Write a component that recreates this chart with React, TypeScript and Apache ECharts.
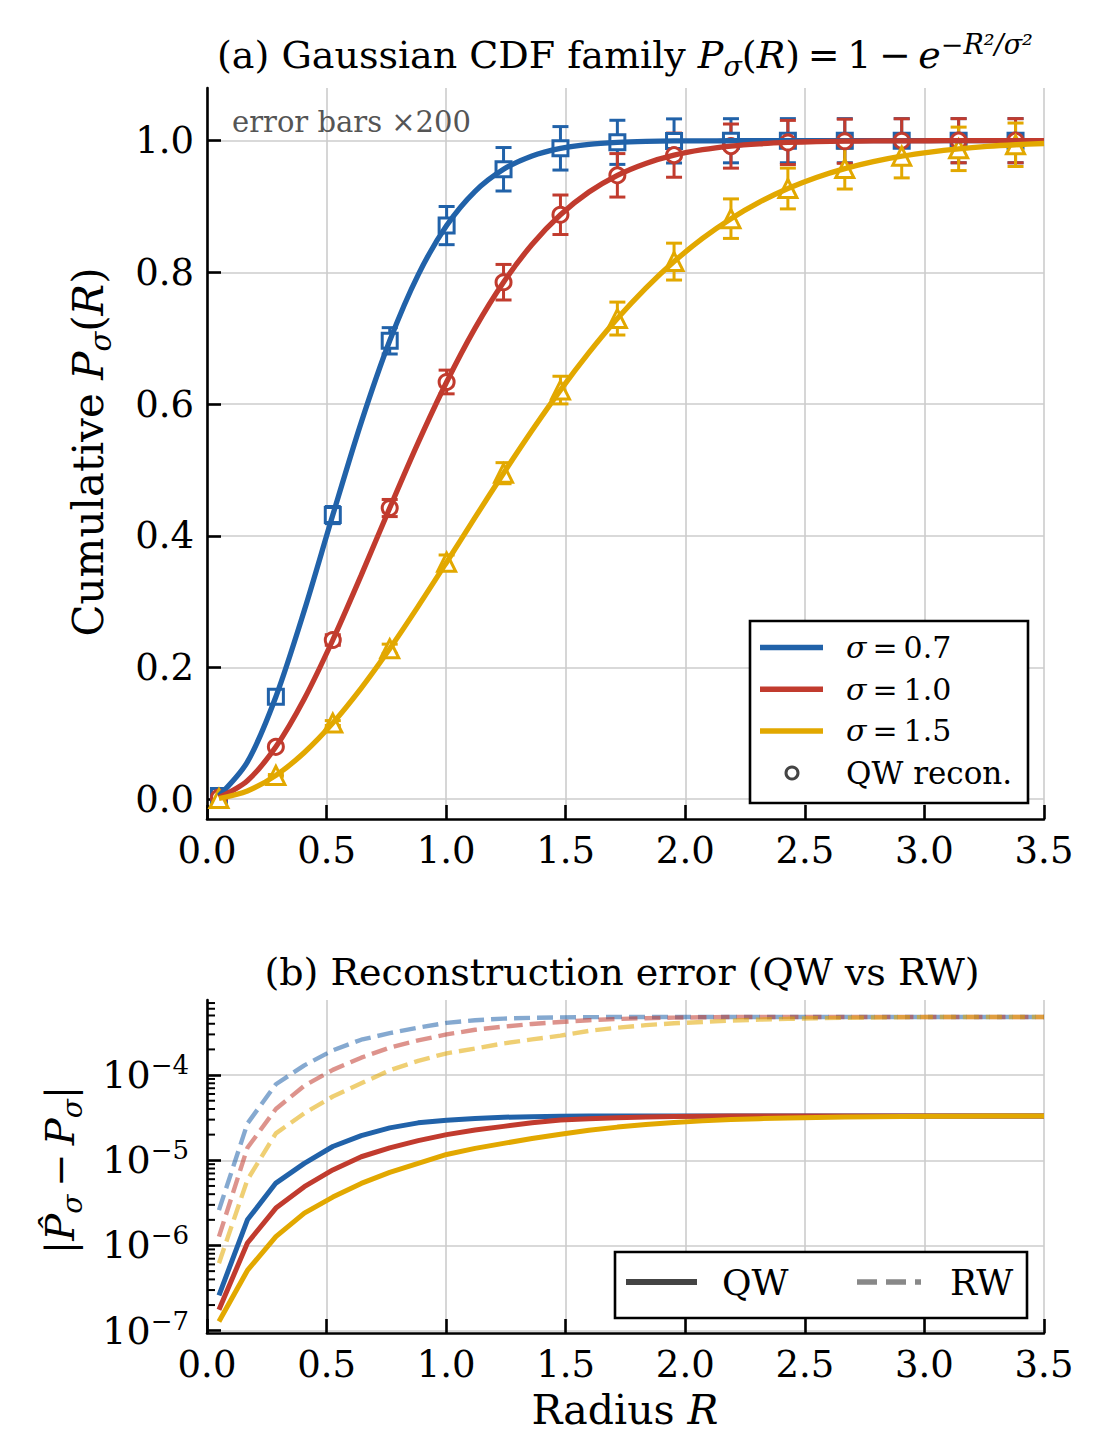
import React, { useEffect, useRef } from 'react';
import * as echarts from 'echarts';

// ---------- data ----------
const R_GRID = [0.05, 0.169, 0.288, 0.407, 0.526, 0.645, 0.764, 0.883, 1.002, 1.121, 1.24, 1.359, 1.478, 1.597, 1.716, 1.835, 1.953, 2.072, 2.191, 2.31, 2.429, 2.548, 2.667, 2.786, 2.905, 3.024, 3.143, 3.262, 3.381, 3.5];
const R_MARK = [0.05, 0.288, 0.526, 0.764, 1.002, 1.24, 1.478, 1.716, 1.953, 2.191, 2.429, 2.667, 2.905, 3.143, 3.381];

const CDF_07 = [0.0051, 0.0567, 0.1557, 0.2868, 0.4315, 0.5722, 0.6961, 0.7963, 0.8711, 0.9231, 0.9566, 0.9769, 0.9884, 0.9945, 0.9975, 0.999, 0.9996, 0.9998, 0.9999, 1.0, 1.0, 1.0, 1.0, 1.0, 1.0, 1.0, 1.0, 1.0, 1.0, 1.0];
const CDF_10 = [0.0025, 0.0282, 0.0796, 0.1526, 0.2418, 0.3403, 0.4422, 0.5415, 0.6336, 0.7154, 0.7851, 0.8423, 0.8875, 0.922, 0.9474, 0.9655, 0.978, 0.9863, 0.9918, 0.9952, 0.9973, 0.9985, 0.9992, 0.9996, 0.9998, 0.9999, 1.0, 1.0, 1.0, 1.0];
const CDF_15 = [0.0011, 0.0126, 0.0362, 0.071, 0.1157, 0.1688, 0.2285, 0.2929, 0.3599, 0.4279, 0.4951, 0.5599, 0.6213, 0.6781, 0.7299, 0.7761, 0.8164, 0.8516, 0.8816, 0.9067, 0.9274, 0.9442, 0.9576, 0.9682, 0.9765, 0.9828, 0.9876, 0.9912, 0.9938, 0.9957];

const QW_07 = [0.0051, 0.1557, 0.4315, 0.6961, 0.8711, 0.9566, 0.9884, 0.9975, 0.9996, 0.9999, 1.0, 1.0, 1.0, 1.0, 1.0];
const QW_10 = [0.0025, 0.0796, 0.2418, 0.4422, 0.6336, 0.7851, 0.8875, 0.9474, 0.978, 0.9918, 0.9973, 0.9992, 0.9998, 1.0, 1.0];
const QW_15 = [0.0011, 0.0362, 0.1157, 0.2285, 0.3599, 0.4951, 0.6213, 0.7299, 0.8164, 0.8816, 0.9274, 0.9576, 0.9765, 0.9876, 0.9938];

const ERR_07 = [0.0003, 0.005, 0.013, 0.02, 0.029, 0.033, 0.033, 0.0335, 0.0335, 0.0335, 0.0335, 0.0335, 0.0335, 0.0335, 0.0335];
const ERR_10 = [0.0002, 0.003, 0.008, 0.013, 0.018, 0.027, 0.03, 0.033, 0.0335, 0.0335, 0.0335, 0.0335, 0.0335, 0.0335, 0.0335];
const ERR_15 = [0.0001, 0.0013, 0.0037, 0.007, 0.011, 0.016, 0.021, 0.025, 0.028, 0.03, 0.031, 0.031, 0.033, 0.033, 0.033];

const QW_ERR_07 = [2.6e-7, 2.0e-6, 5.4e-6, 9.2e-6, 1.45e-5, 1.95e-5, 2.4e-5, 2.75e-5, 2.95e-5, 3.1e-5, 3.2e-5, 3.25e-5, 3.28e-5, 3.3e-5, 3.3e-5, 3.3e-5, 3.3e-5, 3.3e-5, 3.3e-5, 3.3e-5, 3.3e-5, 3.3e-5, 3.3e-5, 3.3e-5, 3.3e-5, 3.3e-5, 3.3e-5, 3.3e-5, 3.3e-5, 3.3e-5];
const QW_ERR_10 = [1.76e-7, 1.07e-6, 2.75e-6, 4.9e-6, 7.7e-6, 1.1e-5, 1.4e-5, 1.7e-5, 2.0e-5, 2.27e-5, 2.5e-5, 2.75e-5, 2.97e-5, 3.08e-5, 3.16e-5, 3.22e-5, 3.26e-5, 3.28e-5, 3.3e-5, 3.3e-5, 3.3e-5, 3.3e-5, 3.3e-5, 3.3e-5, 3.3e-5, 3.3e-5, 3.3e-5, 3.3e-5, 3.3e-5, 3.3e-5];
const QW_ERR_15 = [1.28e-7, 5.1e-7, 1.27e-6, 2.4e-6, 3.7e-6, 5.35e-6, 7.2e-6, 9.2e-6, 1.17e-5, 1.38e-5, 1.58e-5, 1.8e-5, 2.02e-5, 2.25e-5, 2.45e-5, 2.63e-5, 2.78e-5, 2.9e-5, 3.0e-5, 3.08e-5, 3.14e-5, 3.18e-5, 3.22e-5, 3.25e-5, 3.27e-5, 3.28e-5, 3.29e-5, 3.3e-5, 3.3e-5, 3.3e-5];

const RW_ERR_07 = [2.6e-6, 2.7e-5, 7.8e-5, 1.3e-4, 1.95e-4, 2.6e-4, 3.1e-4, 3.6e-4, 4.1e-4, 4.4e-4, 4.6e-4, 4.7e-4, 4.75e-4, 4.78e-4, 4.8e-4, 4.8e-4, 4.8e-4, 4.8e-4, 4.8e-4, 4.8e-4, 4.8e-4, 4.8e-4, 4.8e-4, 4.8e-4, 4.8e-4, 4.8e-4, 4.8e-4, 4.8e-4, 4.8e-4, 4.8e-4];
const RW_ERR_10 = [1.27e-6, 1.4e-5, 4.0e-5, 7.5e-5, 1.15e-4, 1.6e-4, 2.1e-4, 2.55e-4, 3.0e-4, 3.4e-4, 3.7e-4, 3.98e-4, 4.2e-4, 4.4e-4, 4.55e-4, 4.65e-4, 4.72e-4, 4.76e-4, 4.8e-4, 4.8e-4, 4.8e-4, 4.8e-4, 4.8e-4, 4.8e-4, 4.8e-4, 4.8e-4, 4.8e-4, 4.8e-4, 4.8e-4, 4.8e-4];
const RW_ERR_15 = [6.2e-7, 5.9e-6, 2.07e-5, 3.56e-5, 5.6e-5, 8.0e-5, 1.14e-4, 1.47e-4, 1.8e-4, 2.05e-4, 2.35e-4, 2.62e-4, 2.9e-4, 3.3e-4, 3.6e-4, 3.85e-4, 4.05e-4, 4.2e-4, 4.35e-4, 4.47e-4, 4.57e-4, 4.64e-4, 4.7e-4, 4.74e-4, 4.77e-4, 4.8e-4, 4.8e-4, 4.8e-4, 4.8e-4, 4.8e-4];

const SIGMA_LABELS = ['0.7', '1.0', '1.5'];
const Y_TICKS_TOP = [0, 0.2, 0.4, 0.6, 0.8, 1.0];
const Y_TICKS_LOG = [1e-7, 1e-6, 1e-5, 1e-4];

// ---------- style ----------
const FONT = 'DejaVu Serif';
const BLUE = '#2162a9';
const RED = '#c13b2e';
const GOLD = '#e2a800';
const COLORS = [BLUE, RED, GOLD];
const SYMBOLS = ['rect', 'circle', 'triangle'];
const SYMBOL_SIZES = [15, 15, 18];
const CURVES = [CDF_07, CDF_10, CDF_15];
const MARKS = [QW_07, QW_10, QW_15];
const ERRS = [ERR_07, ERR_10, ERR_15];
const QW_ERRS = [QW_ERR_07, QW_ERR_10, QW_ERR_15];
const RW_ERRS = [RW_ERR_07, RW_ERR_10, RW_ERR_15];

const TICK_FS = 37;
const LABEL_FS = 42;
const TITLE_FS = 38;

const LOG_MINOR: number[] = [];
for (const e of [-8, -7, -6, -5, -4]) {
  for (let m = 2; m <= 9; m++) {
    const v = m * Math.pow(10, e);
    if (v > 9.4e-8 && v < 7.6e-4) LOG_MINOR.push(v);
  }
}

const richSet = (s: number, lhFactor = 1.3) => {
  const lh = Math.round(s * lhFactor);
  const ss = Math.round(s * 0.7);
  return {
    n: { fontSize: s, fontFamily: FONT, lineHeight: lh },
    i: { fontSize: s, fontFamily: FONT, fontStyle: 'italic', lineHeight: lh },
    sub: { fontSize: ss, fontFamily: FONT, fontStyle: 'italic', lineHeight: ss, verticalAlign: 'bottom' },
    sup: { fontSize: ss, fontFamily: FONT, lineHeight: ss, verticalAlign: 'top' },
    supi: { fontSize: ss, fontFamily: FONT, fontStyle: 'italic', lineHeight: ss, verticalAlign: 'top' },
  };
};

const textEl = (text: string, x: number, y: number, size: number, opts: any = {}) => {
  const lhf = opts.lhf || 1.3;
  return {
    type: 'text',
    x,
    y,
    rotation: opts.rotation || 0,
    z: 100,
    silent: true,
    style: {
      text,
      rich: richSet(size, lhf),
      fontSize: size,
      fontFamily: FONT,
      lineHeight: Math.round(size * lhf),
      fill: opts.fill || '#000',
      align: opts.align || 'center',
      verticalAlign: 'middle',
      textAlign: opts.align || 'center',
      textVerticalAlign: 'middle',
    },
  };
};

const axisLine = { show: true, onZero: false, lineStyle: { color: '#000', width: 2.6 } };
const axisTick = { show: true, inside: true, length: 14, lineStyle: { color: '#000', width: 2.6 } };
const splitLine = { show: true, lineStyle: { color: '#cccccc', width: 1.6 } };
const tickLabel = { color: '#000', fontSize: TICK_FS, fontFamily: FONT, margin: 13, showMinLabel: true, showMaxLabel: true, hideOverlap: false };

function buildOption(): any {
  const series: any[] = [];
  for (let i = 0; i < 3; i++) {
    const color = COLORS[i];
    series.push({
      type: 'line',
      xAxisIndex: 0,
      yAxisIndex: 0,
      data: R_GRID.map((r, j) => [r, CURVES[i][j]]),
      smooth: 0.3,
      showSymbol: false,
      silent: true,
      lineStyle: { color, width: 5.3 },
    });
    series.push({
      type: 'custom',
      xAxisIndex: 0,
      yAxisIndex: 0,
      silent: true,
      data: R_MARK.map((r, j) => [r, MARKS[i][j] - ERRS[i][j], MARKS[i][j] + ERRS[i][j]]),
      encode: { x: 0, y: [1, 2] },
      renderItem: (params: any, api: any) => {
        const x = api.value(0);
        const lo = api.coord([x, api.value(1)]);
        const hi = api.coord([x, api.value(2)]);
        const hw = 8;
        const st = { stroke: color, lineWidth: 3 };
        return {
          type: 'group',
          children: [
            { type: 'line', shape: { x1: lo[0], y1: lo[1], x2: hi[0], y2: hi[1] }, style: st },
            { type: 'line', shape: { x1: lo[0] - hw, y1: lo[1], x2: lo[0] + hw, y2: lo[1] }, style: st },
            { type: 'line', shape: { x1: hi[0] - hw, y1: hi[1], x2: hi[0] + hw, y2: hi[1] }, style: st },
          ],
        };
      },
    });
    series.push({
      type: 'scatter',
      xAxisIndex: 0,
      yAxisIndex: 0,
      silent: true,
      symbol: SYMBOLS[i],
      symbolSize: SYMBOL_SIZES[i],
      data: R_MARK.map((r, j) => [r, MARKS[i][j]]),
      itemStyle: { color: '#ffffff', borderColor: color, borderWidth: 3, opacity: 1 },
    });
  }
  for (let i = 0; i < 3; i++) {
    const color = COLORS[i];
    series.push({
      type: 'line',
      xAxisIndex: 1,
      yAxisIndex: 1,
      silent: true,
      showSymbol: false,
      data: R_GRID.map((r, j) => [r, QW_ERRS[i][j]]),
      lineStyle: { color, width: 5 },
    });
    series.push({
      type: 'line',
      xAxisIndex: 1,
      yAxisIndex: 1,
      silent: true,
      showSymbol: false,
      data: R_GRID.map((r, j) => [r, RW_ERRS[i][j]]),
      lineStyle: { color, width: 4.4, type: [16, 7], opacity: 0.55 },
    });
  }
  // minor ticks of the log axis
  series.push({
    type: 'custom',
    xAxisIndex: 1,
    yAxisIndex: 1,
    silent: true,
    clip: false,
    z: 10,
    data: LOG_MINOR.map((v) => [0, v]),
    encode: { x: 0, y: 1 },
    renderItem: (params: any, api: any) => {
      const p = api.coord([0, api.value(1)]);
      return { type: 'line', shape: { x1: p[0], y1: p[1], x2: p[0] + 8, y2: p[1] }, style: { stroke: '#000', lineWidth: 2 } };
    },
  });

  const legendTop = [
    { type: 'rect', z: 100, shape: { x: 750, y: 621, width: 278, height: 182 }, style: { fill: '#fff', stroke: '#000', lineWidth: 2.6 } },
    ...COLORS.map((c, i) => ({
      type: 'line', z: 101, shape: { x1: 760, y1: 647.5 + i * 41.7, x2: 823, y2: 647.5 + i * 41.7 }, style: { stroke: c, lineWidth: 5.5 },
    })),
    ...SIGMA_LABELS.map((s, i) => textEl(`{i|σ}{n|\u2009=\u2009${s}}`, 846, 647.5 + i * 41.7, 30, { align: 'left' })),
    { type: 'circle', z: 101, shape: { cx: 792, cy: 773, r: 6 }, style: { fill: '#fff', stroke: '#444', lineWidth: 3 } },
    textEl('QW recon.', 846, 773, 31, { align: 'left' }),
  ];
  const legendBottom = [
    { type: 'rect', z: 100, shape: { x: 615, y: 1252, width: 412, height: 66 }, style: { fill: '#fff', stroke: '#000', lineWidth: 2.6 } },
    { type: 'line', z: 101, shape: { x1: 626, y1: 1282, x2: 697, y2: 1282 }, style: { stroke: '#444', lineWidth: 6 } },
    textEl('QW', 722, 1282, 36, { align: 'left' }),
    { type: 'line', z: 101, shape: { x1: 857, y1: 1282, x2: 921, y2: 1282 }, style: { stroke: '#888', lineWidth: 5.5, lineDash: [20, 9] } },
    textEl('RW', 950, 1282, 36, { align: 'left' }),
  ];

  return {
    animation: false,
    backgroundColor: '#ffffff',
    textStyle: { fontFamily: FONT },
    grid: [
      { left: 207, top: 88, width: 837, height: 731, outerBoundsMode: 'none' },
      { left: 207, top: 1000, width: 837, height: 333, outerBoundsMode: 'none' },
    ],
    xAxis: [0, 1].map((g) => ({
      gridIndex: g,
      type: 'value',
      min: 0,
      max: 3.5,
      interval: 0.5,
      axisLine,
      axisTick,
      splitLine,
      axisLabel: { ...tickLabel, formatter: (v: number) => v.toFixed(1) },
    })),
    yAxis: [
      {
        gridIndex: 0,
        type: 'value',
        min: -0.03,
        max: 1.08,
        axisLine,
        axisTick: { ...axisTick, customValues: Y_TICKS_TOP },
        splitLine,
        axisLabel: { ...tickLabel, customValues: Y_TICKS_TOP, formatter: (v: number) => v.toFixed(1) },
      },
      {
        gridIndex: 1,
        type: 'log',
        logBase: 10,
        min: 9.4e-8,
        max: 7.6e-4,
        axisLine,
        axisTick: { ...axisTick, customValues: Y_TICKS_LOG },
        splitLine,
        minorTick: { show: false },
        axisLabel: {
          ...tickLabel,
          margin: 18,
          customValues: Y_TICKS_LOG,
          formatter: (v: number) => `{b|10}{s|−${Math.round(-Math.log10(v))}}`,
          rich: {
            b: { fontSize: 38, fontFamily: FONT, color: '#000', lineHeight: 46 },
            s: { fontSize: 26, fontFamily: FONT, color: '#000', lineHeight: 26, verticalAlign: 'top' },
          },
        },
      },
    ],
    series,
    graphic: [
      textEl('(a) Gaussian CDF family {i|P}{sub|σ}{n|(}{i|R}{n|)\u2009=\u20091\u2009−\u2009}{i|e}{sup|−}{supi|R²/σ²}', 625, 55, TITLE_FS),
      textEl('(b) Reconstruction error (QW vs RW)', 622, 972, TITLE_FS),
      textEl('Cumulative {i|P}{sub|σ}{n|(}{i|R}{n|)}', 88, 452, LABEL_FS, { rotation: Math.PI / 2 }),
      textEl('{n||}{i|P̂}{sub|σ}{n|\u2009−\u2009}{i|P}{sub|σ}{n||}', 60, 1170, 40, { rotation: Math.PI / 2 }),
      textEl('Radius {i|R}', 625, 1410, 41, { lhf: 0.72 }),
      textEl('error bars ×200', 232, 122, 29, { align: 'left', fill: '#555555' }),
      ...legendTop,
      ...legendBottom,
    ],
  };
}

export default function App() {
  const ref = useRef<HTMLDivElement>(null);
  useEffect(() => {
    document.body.style.margin = '0';
    if (!ref.current) return;
    const chart = echarts.init(ref.current, undefined, { renderer: 'svg' });
    chart.setOption(buildOption());
    return () => chart.dispose();
  }, []);
  return <div ref={ref} style={{ width: 1104, height: 1434 }} />;
}
